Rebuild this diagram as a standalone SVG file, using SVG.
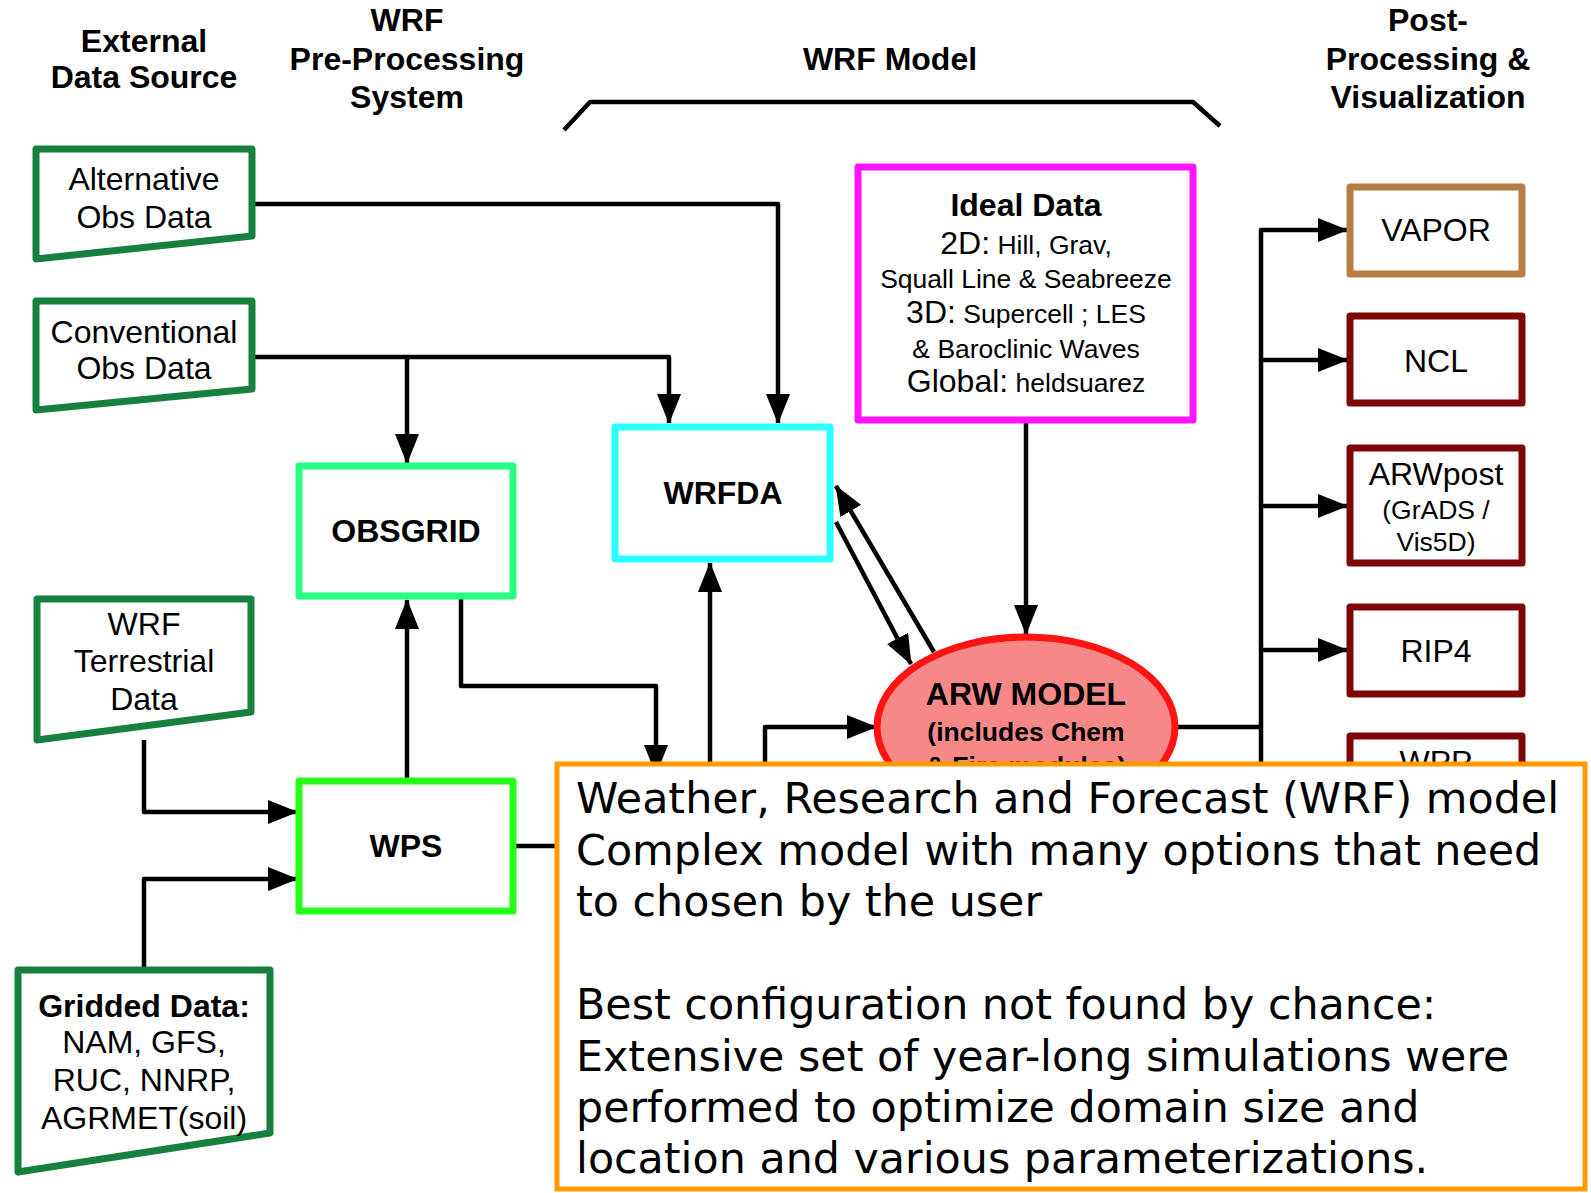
<svg xmlns="http://www.w3.org/2000/svg" width="1591" height="1193" viewBox="0 0 1591 1193">
<defs>
<style>
.hdr{font-family:"Liberation Sans",Arial,sans-serif;font-weight:bold;font-size:32px;text-anchor:middle;fill:#000}
.t{font-family:"Liberation Sans",Arial,sans-serif;font-size:32px;text-anchor:middle;fill:#000}
.b{font-family:"Liberation Sans",Arial,sans-serif;font-weight:bold;font-size:32px;text-anchor:middle;fill:#000}
.s{font-size:26.5px}
.m{font-size:32px}
.src{fill:#fff;stroke:#17803f;stroke-width:7;stroke-linejoin:round}
.box{fill:#fff;stroke-width:7;stroke-linejoin:round}
.post{fill:#fff;stroke:#7d0606;stroke-width:7;stroke-linejoin:round}
.ln{fill:none;stroke:#000;stroke-width:4.5;stroke-linejoin:round}
.note{font-family:"DejaVu Sans",Verdana,sans-serif;font-size:42.8px;fill:#000}
</style>
<marker id="ah" markerUnits="userSpaceOnUse" markerWidth="30" markerHeight="24" refX="29" refY="12" orient="auto">
<path d="M0,0 L30,12 L0,24 z" fill="#000"/>
</marker>
<clipPath id="above-note">
<rect x="0" y="0" width="1591" height="762"/>
</clipPath>
</defs>
<rect width="1591" height="1193" fill="#fff"/>

<g id="headers">
<text class="hdr" x="144" y="52">External</text>
<text class="hdr" x="144" y="88">Data Source</text>
<text class="hdr" x="407" y="31">WRF</text>
<text class="hdr" x="407" y="70">Pre-Processing</text>
<text class="hdr" x="407" y="108">System</text>
<text class="hdr" x="890" y="70">WRF Model</text>
<text class="hdr" x="1428" y="31">Post-</text>
<text class="hdr" x="1428" y="70">Processing &amp;</text>
<text class="hdr" x="1428" y="108">Visualization</text>
<polyline class="ln" points="564,130 590,102 1193,102 1220,126"/>
</g>

<g id="connectors">
<path class="ln" d="M252,204 H778 V423" marker-end="url(#ah)"/>
<path class="ln" d="M252,357 H669 V423" marker-end="url(#ah)"/>
<path class="ln" d="M407,357 V463" marker-end="url(#ah)"/>
<path class="ln" d="M407,780 V600" marker-end="url(#ah)"/>
<path class="ln" d="M461,597 V686 H656 V774" marker-end="url(#ah)"/>
<path class="ln" d="M710,800 V563" marker-end="url(#ah)"/>
<path class="ln" d="M765,800 V727 H876" marker-end="url(#ah)"/>
<path class="ln" d="M144,740 V812 H297" marker-end="url(#ah)"/>
<path class="ln" d="M144,970 V879 H297" marker-end="url(#ah)"/>
<path class="ln" d="M514,846 H557"/>
<path class="ln" d="M1026,423 V634" marker-end="url(#ah)"/>
<path class="ln" d="M836,522 L911,664" marker-end="url(#ah)"/>
<path class="ln" d="M934,652 L836,486" marker-end="url(#ah)"/>
<path class="ln" d="M1177,727 H1261"/>
<path class="ln" d="M1261,800 V230 H1347" marker-end="url(#ah)"/>
<path class="ln" d="M1261,360 H1347" marker-end="url(#ah)"/>
<path class="ln" d="M1261,506 H1347" marker-end="url(#ah)"/>
<path class="ln" d="M1261,650 H1347" marker-end="url(#ah)"/>
</g>

<g id="alt-obs">
<polygon class="src" points="36,149 252,149 252,236 36,259"/>
<text class="t" x="144" y="190">Alternative</text>
<text class="t" x="144" y="228">Obs Data</text>
</g>
<g id="conv-obs">
<polygon class="src" points="36,301 252,301 252,389 36,410"/>
<text class="t" x="144" y="343">Conventional</text>
<text class="t" x="144" y="379">Obs Data</text>
</g>
<g id="terrestrial">
<polygon class="src" points="37,599 251,599 251,712 37,740"/>
<text class="t" x="144" y="635">WRF</text>
<text class="t" x="144" y="672">Terrestrial</text>
<text class="t" x="144" y="710">Data</text>
</g>
<g id="gridded">
<polygon class="src" points="18,970 270,970 270,1133 18,1172"/>
<text class="b" x="144" y="1017">Gridded Data:</text>
<text class="t" x="144" y="1053">NAM, GFS,</text>
<text class="t" x="144" y="1091">RUC, NNRP,</text>
<text class="t" x="144" y="1129">AGRMET(soil)</text>
</g>

<g id="obsgrid">
<rect class="box" x="299" y="466" width="214" height="130" stroke="#26ff80"/>
<text class="b" x="406" y="542">OBSGRID</text>
</g>
<g id="wps">
<rect class="box" x="299" y="781" width="214" height="130" stroke="#26ff1a"/>
<text class="b" x="406" y="857">WPS</text>
</g>
<g id="wrfda">
<rect class="box" x="615" y="427" width="215" height="132" stroke="#2bffff"/>
<text class="b" x="723" y="504">WRFDA</text>
</g>
<g id="ideal">
<rect class="box" x="858" y="167" width="335" height="253" stroke="#ff14ff"/>
<text class="b" x="1026" y="216">Ideal Data</text>
<text class="t" x="1026" y="254"><tspan class="m">2D:</tspan><tspan class="s"> Hill, Grav,</tspan></text>
<text class="t s" x="1026" y="288">Squall Line &amp; Seabreeze</text>
<text class="t" x="1026" y="323"><tspan class="m">3D:</tspan><tspan class="s"> Supercell ; LES</tspan></text>
<text class="t s" x="1026" y="358">&amp; Baroclinic Waves</text>
<text class="t" x="1026" y="392"><tspan class="m">Global:</tspan><tspan class="s"> heldsuarez</tspan></text>
</g>
<g id="arw">
<ellipse cx="1026" cy="727" rx="149" ry="90" fill="#f78888" stroke="#ff1414" stroke-width="7"/>
<text class="b" x="1026" y="705">ARW MODEL</text>
<text class="b s" x="1026" y="741">(includes Chem</text>
<text class="b s" x="1026" y="775" clip-path="url(#above-note)">&amp; Fire modules)</text>
</g>
<g id="vapor">
<rect class="box" x="1350" y="187" width="172" height="87" stroke="#b77c43"/>
<text class="t" x="1436" y="241">VAPOR</text>
</g>
<g id="ncl">
<rect class="post" x="1350" y="316" width="172" height="87"/>
<text class="t" x="1436" y="372">NCL</text>
</g>
<g id="arwpost">
<rect class="post" x="1350" y="448" width="172" height="115"/>
<text class="t" x="1436" y="485">ARWpost</text>
<text class="t s" x="1436" y="519">(GrADS /</text>
<text class="t s" x="1436" y="551">Vis5D)</text>
</g>
<g id="rip4">
<rect class="post" x="1350" y="607" width="172" height="87"/>
<text class="t" x="1436" y="662">RIP4</text>
</g>
<g id="wpp">
<rect class="post" x="1350" y="736" width="172" height="87"/>
<text class="t" x="1436" y="773" clip-path="url(#above-note)">WPP</text>
</g>

<g id="note">
<rect x="557" y="764" width="1028" height="425" fill="#fff" stroke="#ff9a00" stroke-width="5"/>
<text class="note" x="576" y="813">Weather, Research and Forecast (WRF) model</text>
<text class="note" x="576" y="865">Complex model with many options that need</text>
<text class="note" x="576" y="916">to chosen by the user</text>
<text class="note" x="576" y="1019">Best configuration not found by chance:</text>
<text class="note" x="576" y="1071">Extensive set of year-long simulations were</text>
<text class="note" x="576" y="1122">performed to optimize domain size and</text>
<text class="note" x="576" y="1173">location and various parameterizations.</text>
</g>
</svg>
